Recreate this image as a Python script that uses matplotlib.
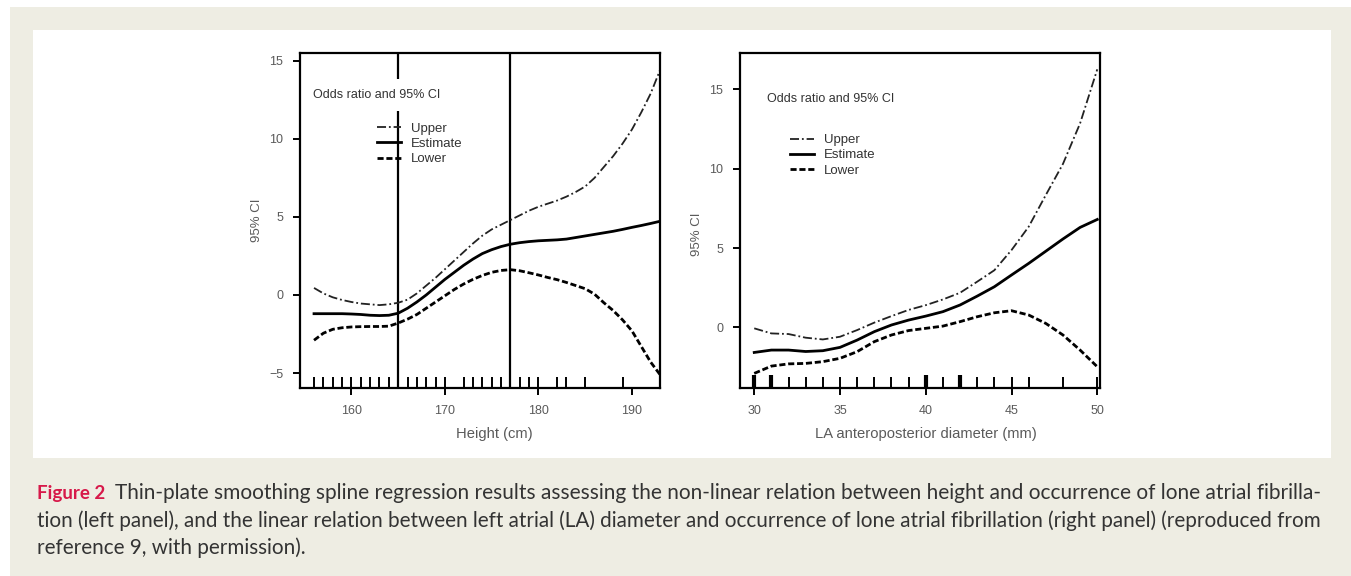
import numpy as np
import matplotlib
matplotlib.use("Agg")
import matplotlib.pyplot as plt
from matplotlib.patches import Rectangle
from matplotlib.lines import Line2D

W, H = 1351, 576

# ---- left panel: height (cm) ----
ht_x = [156, 157, 158, 159, 160, 161, 162, 163, 164, 165, 166, 167, 168, 169, 170,
        171, 172, 173, 174, 175, 176, 177, 178, 179, 180, 181, 182, 183, 184, 185,
        186, 187, 188, 189, 190, 191, 192, 193]
ht_est = [-1.2, -1.2, -1.2, -1.2, -1.22, -1.25, -1.3, -1.32, -1.3, -1.17, -0.85, -0.45, 0.0, 0.5, 1.0,
          1.45, 1.9, 2.3, 2.65, 2.9, 3.1, 3.25, 3.35, 3.42, 3.47, 3.5, 3.53, 3.58, 3.68, 3.78,
          3.88, 3.98, 4.08, 4.2, 4.33, 4.45, 4.58, 4.72]
ht_up = [0.45, 0.1, -0.15, -0.32, -0.45, -0.55, -0.6, -0.65, -0.6, -0.5, -0.3, 0.1, 0.6, 1.1, 1.65,
         2.2, 2.75, 3.3, 3.8, 4.2, 4.5, 4.8, 5.1, 5.4, 5.65, 5.85, 6.05, 6.3, 6.6, 6.95,
         7.5, 8.2, 8.9, 9.7, 10.6, 11.7, 12.9, 14.4]
ht_lo = [-2.9, -2.45, -2.2, -2.1, -2.05, -2.03, -2.02, -2.02, -2.0, -1.8, -1.55, -1.25, -0.85, -0.45, -0.05,
         0.35, 0.7, 1.0, 1.25, 1.45, 1.57, 1.62, 1.55, 1.42, 1.28, 1.12, 0.98, 0.8, 0.6, 0.4,
         0.05, -0.5, -1.0, -1.6, -2.3, -3.3, -4.3, -5.1]
ht_rug = [156, 157, 158, 159, 160, 161, 162, 163, 164, 165, 166, 167, 168, 169, 170,
          172, 173, 174, 175, 176, 177, 178, 179, 180, 182, 183, 185, 189, 193]
ht_knots = [165, 177]
ht_ticks = [160, 170, 180, 190]
ht_yticks = [-5, 0, 5, 10, 15]

# ---- right panel: LA diameter (mm) ----
la_x = [30, 31, 32, 33, 34, 35, 36, 37, 38, 39, 40, 41, 42, 43, 44, 45, 46, 47, 48, 49, 50]
la_est = [-1.58, -1.43, -1.43, -1.52, -1.47, -1.26, -0.8, -0.27, 0.15, 0.46, 0.71, 0.99, 1.41,
          1.97, 2.56, 3.3, 4.03, 4.8, 5.57, 6.3, 6.8]
la_up = [-0.06, -0.38, -0.42, -0.65, -0.76, -0.59, -0.17, 0.3, 0.71, 1.1, 1.4, 1.76, 2.18,
         2.88, 3.6, 4.87, 6.34, 8.34, 10.3, 12.86, 16.26]
la_lo = [-2.9, -2.44, -2.3, -2.27, -2.16, -1.95, -1.53, -0.9, -0.48, -0.2, -0.06, 0.08, 0.36,
         0.67, 0.92, 1.05, 0.78, 0.25, -0.48, -1.43, -2.48]
la_rug = [30, 31, 32, 33, 34, 35, 36, 37, 38, 39, 40, 41, 42, 43, 44, 45, 46, 48, 50]
la_rug_dense = [30, 31, 40, 42]
la_ticks = [30, 35, 40, 45, 50]
la_yticks = [0, 5, 10, 15]

caption_head = "Figure 2"
caption_lines = [
    "Thin-plate smoothing spline regression results assessing the non-linear relation between height and occurrence of lone atrial fibrilla-",
    "tion (left panel), and the linear relation between left atrial (LA) diameter and occurrence of lone atrial fibrillation (right panel) (reproduced from",
    "reference 9, with permission).",
]

plt.rcParams["font.family"] = ["Liberation Sans", "DejaVu Sans"]
fig = plt.figure(figsize=(W / 100, H / 100), dpi=100)
fig.patch.set_facecolor("white")

# page background + white plate
fig.patches.append(Rectangle((10 / W, 0), 1, 1 - 7 / H, transform=fig.transFigure,
                             facecolor="#eeede3", edgecolor="none", zorder=-10))
fig.patches.append(Rectangle((33 / W, 1 - 458 / H), (1331 - 33) / W, (458 - 30) / H,
                             transform=fig.transFigure, facecolor="white",
                             edgecolor="none", zorder=-9))

grey = "#5a5a5a"
UP = dict(color="#222222", lw=1.3, dashes=(5, 1.6, 1, 1.6))
EST = dict(color="black", lw=2.0, ls="-")
LO = dict(color="black", lw=2.0, dashes=(2.2, 1.0))


def panel(px0, px1, xlim, ylim, x, est, up, lo, rug, xticks, yticks, xlabel,
          title_pos, leg_pos, xlab_pos, ylab_y):
    ax = fig.add_axes([px0 / W, 1 - 388 / H, (px1 - px0) / W, 335 / H])
    ax.set_xlim(*xlim); ax.set_ylim(*ylim)
    ax.plot(x, up, **UP, label="Upper")
    ax.plot(x, est, **EST, label="Estimate")
    ax.plot(x, lo, **LO, label="Lower")
    ax.vlines(rug, 0, 0.034, transform=ax.get_xaxis_transform(), color="black", lw=1.4)
    for s in ax.spines.values():
        s.set_linewidth(1.6)
    ax.set_xticks(xticks); ax.set_yticks(yticks)
    ax.tick_params(direction="out", length=5, width=1.4, pad=7, labelsize=9,
                   labelcolor=grey)
    ax.set_xlabel(xlabel, fontsize=10.6, color=grey)
    ax.set_ylabel("95% CI", fontsize=9.5, color=grey)
    ax.xaxis.set_label_coords(*xlab_pos)
    ax.yaxis.set_label_coords(-37 / (px1 - px0), ylab_y)
    ax.text(*title_pos, "Odds ratio and 95% CI", transform=ax.transAxes, fontsize=9,
            color="#333333", va="center", ha="left", zorder=2,
            bbox=dict(facecolor="white", edgecolor="none", pad=7))
    handles = [Line2D([], [], **UP), Line2D([], [], **EST), Line2D([], [], **LO)]
    ax.legend(handles, ["Upper", "Estimate", "Lower"], loc="upper left",
              bbox_to_anchor=leg_pos, frameon=False, fontsize=9.5, borderpad=0,
              borderaxespad=0, handlelength=1.8, handletextpad=0.75, labelspacing=0.22,
              labelcolor="#333333")
    return ax


axl = panel(300, 660, (154.5, 193.0), (-5.96, 15.5), ht_x, ht_est, ht_up, ht_lo, ht_rug,
            ht_ticks, ht_yticks, "Height (cm)", (0.036, 0.875), (0.215, 0.792),
            (0.54, -0.115), 0.5)
axl.vlines(ht_knots, 0, 1, transform=axl.get_xaxis_transform(), color="black", lw=1.6, zorder=1)

axr = panel(740, 1100, (29.17, 50.16), (-3.82, 17.29), la_x, la_est, la_up, la_lo, la_rug,
            la_ticks, la_yticks, "LA anteroposterior diameter (mm)", (0.075, 0.863),
            (0.14, 0.758), (0.515, -0.115), 0.46)
axr.vlines(la_rug_dense, 0, 0.04, transform=axr.get_xaxis_transform(), color="black", lw=3)

# caption
cap_font = ["Lato", "DejaVu Sans"]
fig.text(37 / W, 1 - 493 / H, caption_head, fontsize=13.5, fontweight="bold",
         color="#d7194a", family=cap_font, va="center")
fig.text(115 / W, 1 - 493 / H, caption_lines[0], fontsize=15, color="#333333",
         family=cap_font, va="center")
fig.text(37 / W, 1 - 521 / H, caption_lines[1], fontsize=14.85, color="#333333",
         family=cap_font, va="center")
fig.text(37 / W, 1 - 548 / H, caption_lines[2], fontsize=14.85, color="#333333",
         family=cap_font, va="center")

fig.savefig("out.png", dpi=100)
